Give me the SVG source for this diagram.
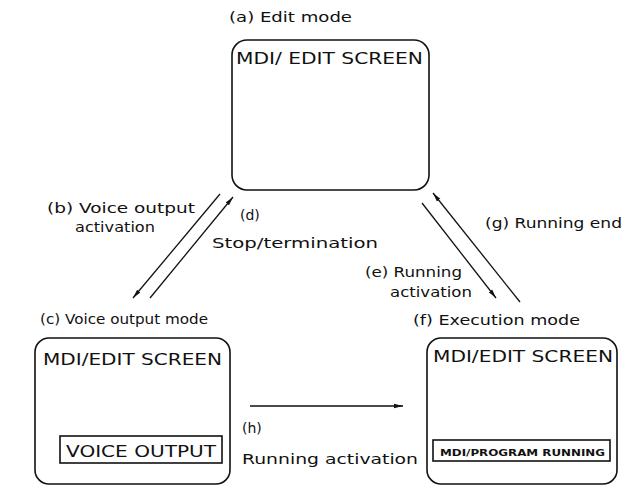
<svg xmlns="http://www.w3.org/2000/svg" width="627" height="486" viewBox="0 0 627 486">
<defs>
<marker id="ah" viewBox="0 0 10 6" refX="10" refY="3" markerWidth="9" markerHeight="5.4" markerUnits="userSpaceOnUse" orient="auto">
<path d="M0,0.6 L10,3 L0,5.4 Z" fill="#111"/>
</marker>
<style>
text{font-family:"DejaVu Sans","Liberation Sans",sans-serif;fill:#111}
.lbl{font-size:14px}
.scr{font-size:16px}
.box{fill:none;stroke:#111;stroke-width:1.6}
.con{stroke:#111;stroke-width:1.3;fill:none}
</style>
</defs>
<rect width="627" height="486" fill="#fff"/>
<g id="edit-mode">
<text class="lbl" x="229" y="22" textLength="123" lengthAdjust="spacingAndGlyphs">(a)  Edit mode</text>
<rect class="box" x="232" y="40" width="197" height="150" rx="15"/>
<text class="scr" x="236" y="64" textLength="187" lengthAdjust="spacingAndGlyphs">MDI/ EDIT SCREEN</text>
</g>
<g id="voice-output-mode">
<text class="lbl" x="40" y="324" textLength="168" lengthAdjust="spacingAndGlyphs">(c)  Voice output mode</text>
<rect class="box" x="35" y="338" width="195" height="146" rx="14"/>
<text class="scr" x="43" y="365" textLength="179" lengthAdjust="spacingAndGlyphs">MDI/EDIT SCREEN</text>
<rect class="box" x="60" y="436" width="162" height="27" stroke-width="1.4"/>
<text class="scr" x="66" y="457" textLength="150" lengthAdjust="spacingAndGlyphs">VOICE OUTPUT</text>
</g>
<g id="execution-mode">
<text class="lbl" x="413" y="325" textLength="167" lengthAdjust="spacingAndGlyphs">(f)  Execution mode</text>
<rect class="box" x="427" y="338" width="190" height="146" rx="14"/>
<text class="scr" x="433" y="362" textLength="180" lengthAdjust="spacingAndGlyphs">MDI/EDIT SCREEN</text>
<rect class="box" x="433" y="440" width="177" height="21" stroke-width="1.4"/>
<text x="440" y="456" font-size="9" font-weight="bold" textLength="165" lengthAdjust="spacingAndGlyphs">MDI/PROGRAM RUNNING</text>
</g>
<g id="connectors">
<line class="con" x1="220" y1="194" x2="133" y2="298" marker-end="url(#ah)"/>
<line class="con" x1="150" y1="298" x2="233" y2="197" marker-end="url(#ah)"/>
<line class="con" x1="422" y1="203" x2="496" y2="298" marker-end="url(#ah)"/>
<line class="con" x1="520" y1="302" x2="433" y2="193" marker-end="url(#ah)"/>
<line class="con" x1="250" y1="406" x2="403" y2="406" marker-end="url(#ah)"/>
</g>
<g id="labels">
<text class="lbl" x="47" y="213" textLength="148" lengthAdjust="spacingAndGlyphs">(b)  Voice output</text>
<text class="lbl" x="75" y="232" textLength="80" lengthAdjust="spacingAndGlyphs">activation</text>
<text class="lbl" x="240" y="220">(d)</text>
<text class="lbl" x="212" y="248" textLength="166" lengthAdjust="spacingAndGlyphs">Stop/termination</text>
<text class="lbl" x="485" y="228" textLength="137" lengthAdjust="spacingAndGlyphs">(g)  Running end</text>
<text class="lbl" x="365" y="277" textLength="97" lengthAdjust="spacingAndGlyphs">(e)  Running</text>
<text class="lbl" x="390" y="297" textLength="82" lengthAdjust="spacingAndGlyphs">activation</text>
<text class="lbl" x="242" y="433">(h)</text>
<text class="lbl" x="242" y="464" textLength="176" lengthAdjust="spacingAndGlyphs">Running activation</text>
</g>
</svg>
